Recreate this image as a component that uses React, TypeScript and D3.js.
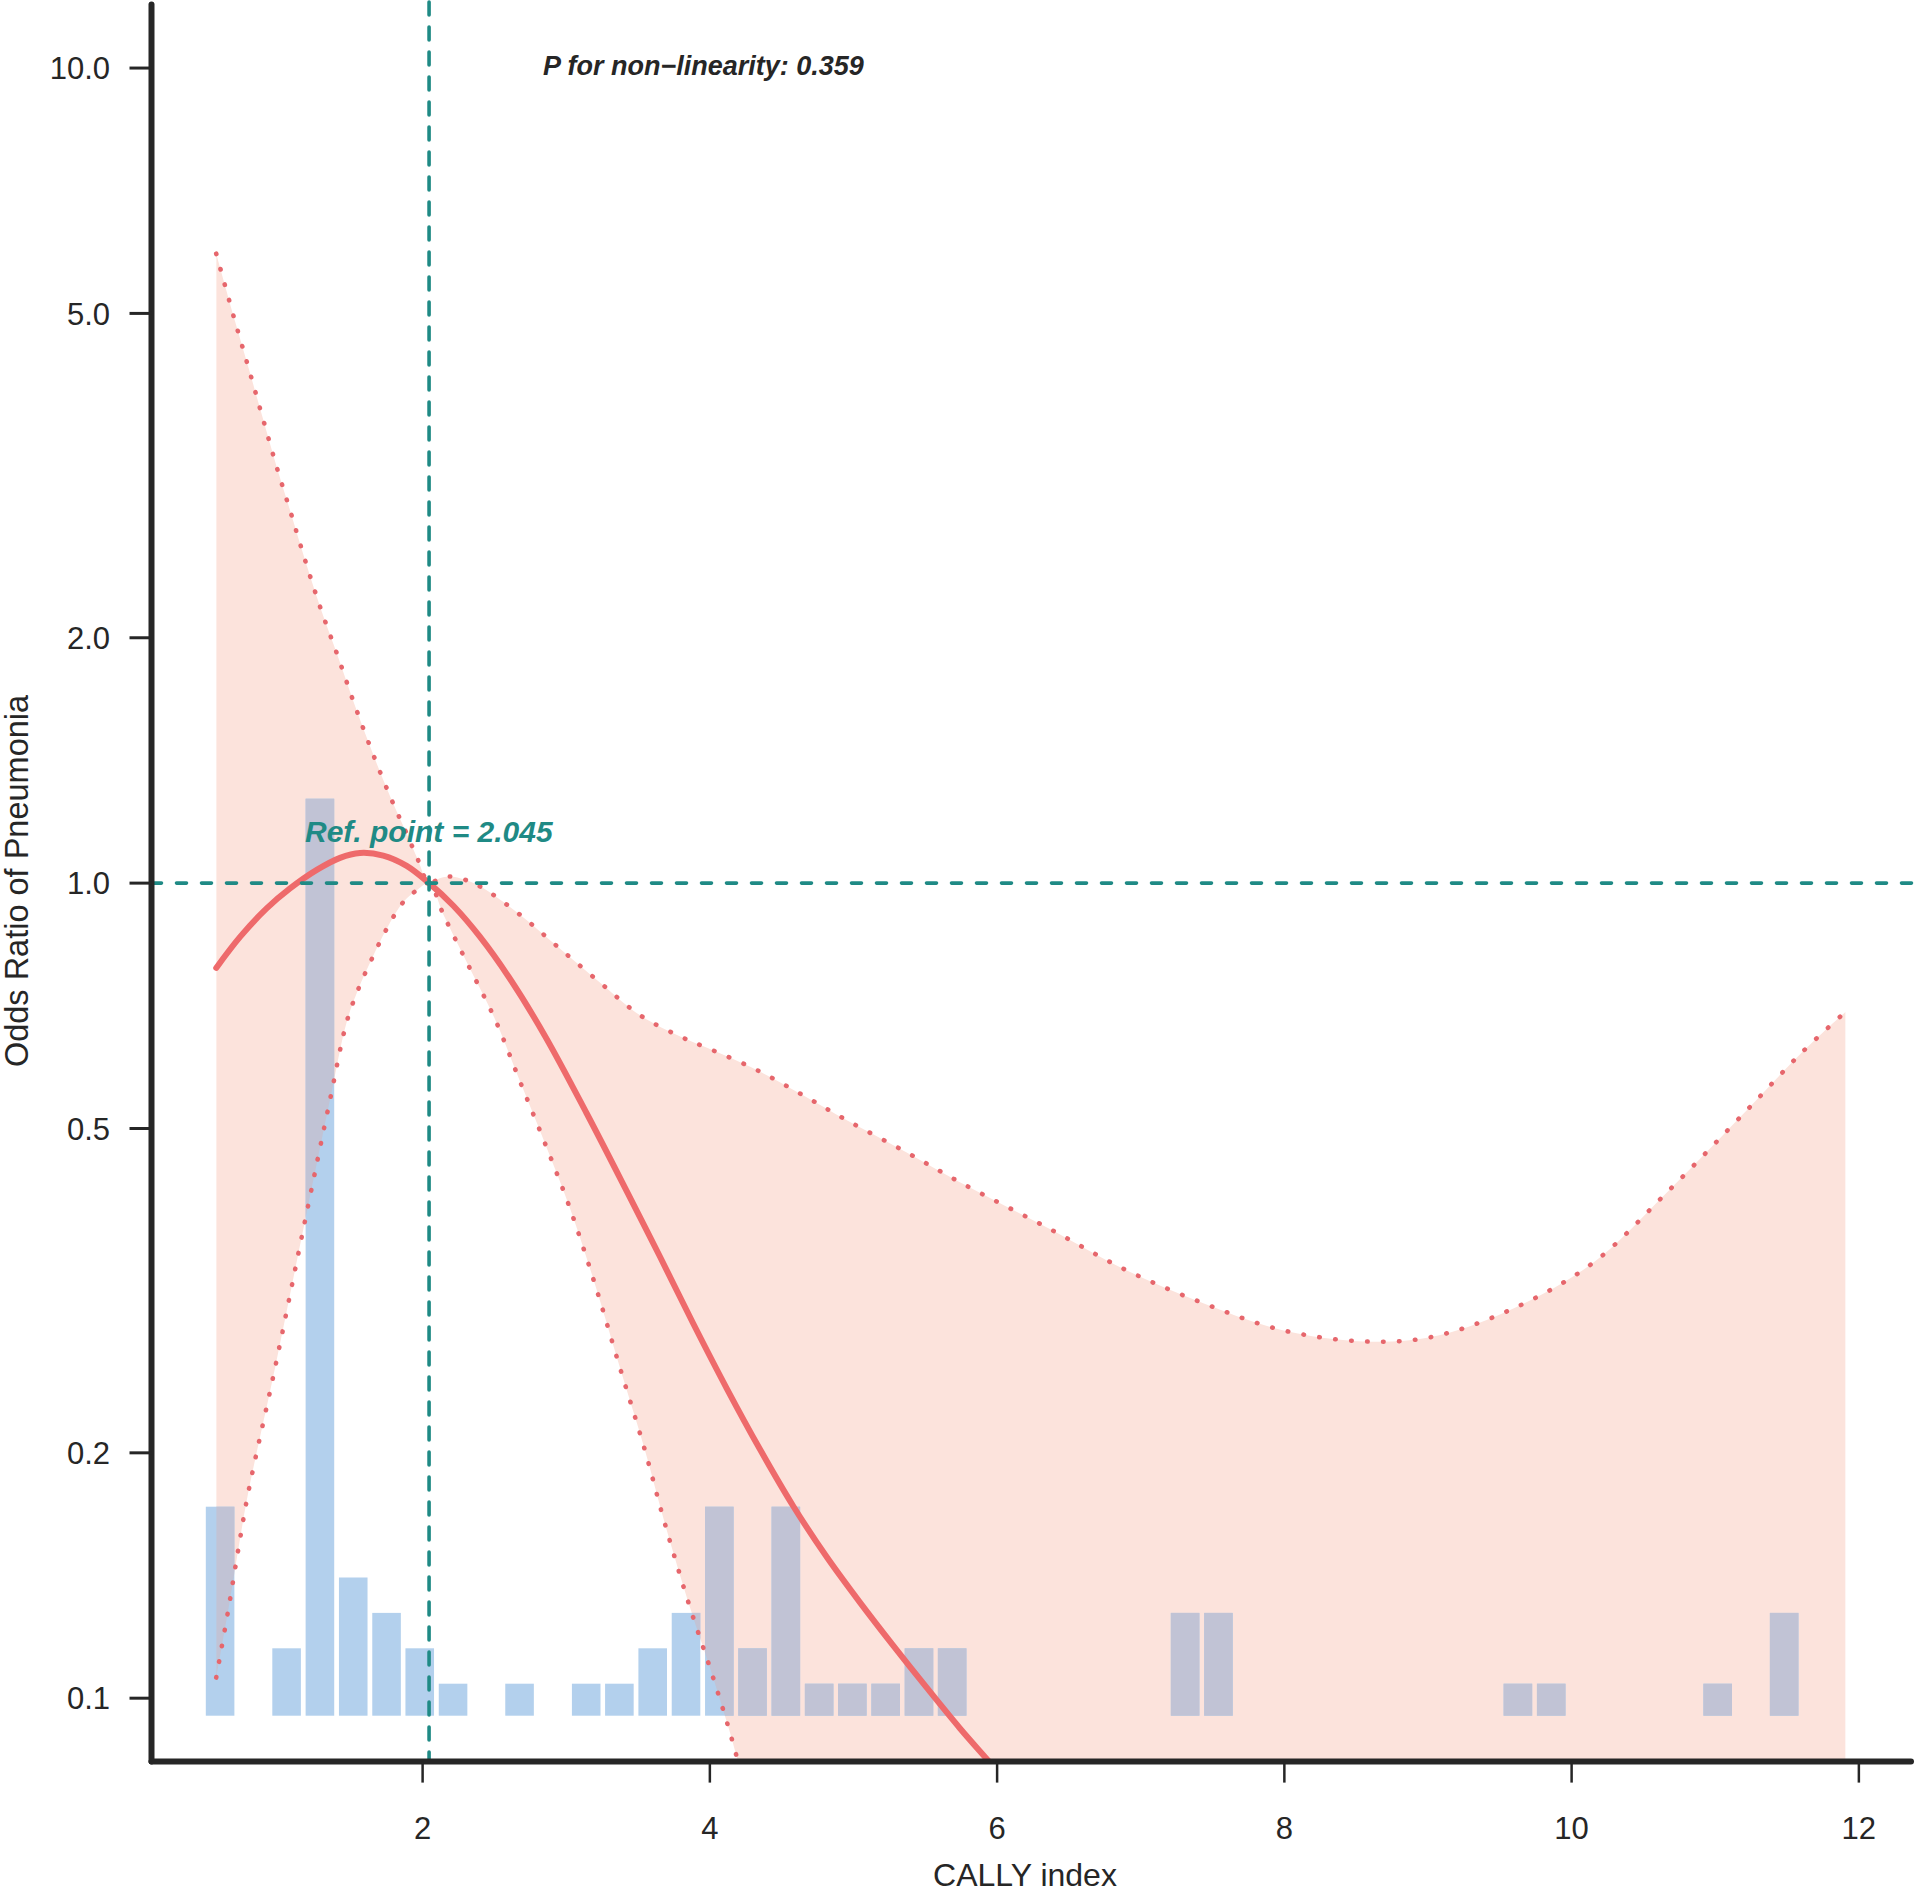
import { useEffect } from "react";
import * as d3 from "d3";

// axis ticks
const xTicks = [2, 4, 6, 8, 10, 12];
const yTicks = [0.1, 0.2, 0.5, 1.0, 2.0, 5.0, 10.0];
const refPoint = 2.045;
const pNonLinear = "0.359";

// fitted odds ratio (spline)
const fitX = [0.563, 0.729, 0.914, 1.077, 1.263, 1.425, 1.564, 1.726, 1.889, 2.045, 2.214, 2.4, 2.6, 2.853, 3.142, 3.43, 3.653, 3.885, 4.117, 4.349, 4.581, 4.814, 5.046, 5.277, 5.51, 5.742, 5.939, 6.2];
const fitOR = [0.787, 0.859, 0.931, 0.985, 1.038, 1.074, 1.089, 1.081, 1.05, 1.0, 0.938, 0.859, 0.767, 0.649, 0.522, 0.416, 0.348, 0.288, 0.24, 0.202, 0.172, 0.149, 0.131, 0.116, 0.103, 0.0918, 0.0838, 0.0743];

// upper 95% CI
const upperX = [0.563, 0.694, 0.791, 0.887, 0.984, 1.084, 1.188, 1.295, 1.409, 1.524, 1.648, 1.78, 1.889, 1.966, 2.045, 2.12, 2.189, 2.3, 2.42, 2.68, 2.939, 3.228, 3.517, 3.805, 4.008, 4.325, 4.643, 4.96, 5.364, 5.768, 6.36, 6.9, 7.44, 7.98, 8.547, 9.005, 9.545, 10.139, 10.679, 11.218, 11.596, 11.906];
const upperOR = [5.92, 4.89, 4.27, 3.72, 3.24, 2.84, 2.47, 2.16, 1.9, 1.66, 1.45, 1.27, 1.15, 1.07, 1.0, 1.014, 1.019, 1.009, 0.986, 0.914, 0.836, 0.757, 0.688, 0.647, 0.625, 0.59, 0.55, 0.511, 0.468, 0.427, 0.377, 0.335, 0.305, 0.283, 0.274, 0.277, 0.298, 0.341, 0.42, 0.526, 0.618, 0.695];

// lower 95% CI
const lowerX = [0.563, 0.649, 0.724, 0.784, 0.972, 1.181, 1.356, 1.472, 1.552, 1.646, 1.75, 1.866, 1.966, 2.045, 2.146, 2.304, 2.507, 2.68, 2.853, 3.026, 3.2, 3.372, 3.546, 3.69, 3.863, 4.008, 4.123, 4.181, 4.3, 4.5];
const lowerOR = [0.106, 0.129, 0.155, 0.178, 0.254, 0.385, 0.543, 0.676, 0.741, 0.807, 0.879, 0.948, 0.982, 1.0, 0.914, 0.802, 0.679, 0.57, 0.479, 0.399, 0.322, 0.255, 0.202, 0.163, 0.129, 0.108, 0.0929, 0.0855, 0.0708, 0.0525];

// histogram of CALLY index (bin mids and counts)
const histMid = [0.59, 1.053, 1.285, 1.517, 1.749, 1.98, 2.212, 2.675, 3.139, 3.37, 3.602, 3.834, 4.066, 4.297, 4.529, 4.761, 4.992, 5.224, 5.456, 5.687, 7.309, 7.541, 9.626, 9.858, 11.017, 11.48];
const histCount = [6, 2, 26, 4, 3, 2, 1, 1, 1, 1, 2, 3, 6, 2, 6, 1, 1, 1, 2, 2, 3, 3, 1, 1, 1, 3];

const W = 1915;
const H = 1892;
const FONT = "'Liberation Sans', Arial, Helvetica, sans-serif";
const RED = "#ee6a6b";
const DOT = "#e6666c";
const TEAL = "#1f8a85";
const PINK = "#fce3dc";
const BLUE = "#b3d0ed";
const GREY = "#c1c3d5";
const INK = "#262626";

export default function App() {
  useEffect(() => {
    document.body.style.margin = "0";
  }, []);

  const x = d3.scaleLinear().domain([0.1124, 12.363]).range([151.5, 1911]);
  const y = d3.scaleLog().domain([0.0836, 11.97]).range([1761.6, 4.4]);
  const hy = d3.scaleLinear().domain([0, 26]).range([1719.1, 798.7]);
  const barBase = 1715.7;
  const barHalf = 0.0995;

  const [xl, xr] = x.range();
  const [yb, yt] = y.range();

  const fit = fitX.map((v, i) => [v, fitOR[i]]);
  const upper = upperX.map((v, i) => [v, upperOR[i]]);
  const lower = lowerX.map((v, i) => [v, lowerOR[i]]);

  const curve = d3.curveCatmullRom.alpha(0.5);

  const line = d3
    .line<number[]>()
    .x((d) => x(d[0]))
    .y((d) => y(d[1]))
    .curve(curve);

  const belowUpper = d3
    .area<number[]>()
    .x((d) => x(d[0]))
    .y0(H + 100)
    .y1((d) => y(d[1]))
    .curve(curve)(upper);

  const aboveLower = d3
    .area<number[]>()
    .x((d) => x(d[0]))
    .y0((d) => y(d[1]))
    .y1(-100)
    .curve(curve)(lower);

  const lowerEnd = x(lowerX[lowerX.length - 1]);

  const bars = (fill: string) =>
    histMid.map((m, i) => (
      <rect
        key={i}
        x={x(m - barHalf)}
        width={x(m + barHalf) - x(m - barHalf)}
        y={hy(histCount[i])}
        height={barBase - hy(histCount[i])}
        fill={fill}
      />
    ));

  return (
    <svg width={W} height={H} style={{ display: "block" }} fontFamily={FONT}>
      <defs>
        <clipPath id="cpPlot">
          <rect x={xl} y={0} width={W - xl} height={yb} />
        </clipPath>
        <clipPath id="cpUpper">
          <path d={belowUpper || ""} />
        </clipPath>
        <clipPath id="cpLower">
          <path d={aboveLower || ""} />
          <rect x={lowerEnd - 0.5} y={-100} width={W} height={H + 200} />
        </clipPath>
      </defs>
      <rect width={W} height={H} fill="#fff" />

      {/* confidence band */}
      <g clipPath="url(#cpPlot)">
        <g clipPath="url(#cpUpper)">
          <g clipPath="url(#cpLower)">
            <rect x={0} y={0} width={W} height={H} fill={PINK} />
          </g>
        </g>
      </g>

      {/* histogram */}
      <g clipPath="url(#cpPlot)">{bars(BLUE)}</g>
      <g clipPath="url(#cpPlot)">
        <g clipPath="url(#cpUpper)">
          <g clipPath="url(#cpLower)">{bars(GREY)}</g>
        </g>
      </g>

      {/* CI bounds and fitted curve */}
      <g clipPath="url(#cpPlot)" fill="none">
        {[upper, lower].map((pts, i) => (
          <path
            key={i}
            d={line(pts) || ""}
            stroke={DOT}
            strokeWidth={4.6}
            strokeLinecap="round"
            strokeDasharray="0.5 15.5"
          />
        ))}
        <path d={line(fit) || ""} stroke={RED} strokeWidth={6} strokeLinecap="round" />
      </g>

      {/* reference lines */}
      <g clipPath="url(#cpPlot)" stroke={TEAL} strokeWidth={3.6} strokeLinecap="round">
        <line x1={xl} x2={W} y1={y(1)} y2={y(1)} strokeDasharray="10 15" />
        <line x1={x(refPoint)} x2={x(refPoint)} y1={2} y2={yb} strokeDasharray="13 12" />
      </g>

      {/* axes */}
      <g stroke={INK} strokeLinecap="round">
        <line x1={xl} x2={xl} y1={yt} y2={yb} strokeWidth={6} />
        <line x1={xl} x2={xr} y1={yb} y2={yb} strokeWidth={6} />
        {yTicks.map((t) => (
          <line key={t} x1={xl - 22} x2={xl} y1={y(t)} y2={y(t)} strokeWidth={3} strokeLinecap="butt" />
        ))}
        {xTicks.map((t) => (
          <line key={t} x1={x(t)} x2={x(t)} y1={yb} y2={yb + 21} strokeWidth={2.5} strokeLinecap="butt" />
        ))}
      </g>
      <g fill={INK} fontSize={31}>
        {yTicks.map((t) => (
          <text key={t} x={110} y={y(t)} dy="0.36em" textAnchor="end">
            {d3.format(".1f")(t)}
          </text>
        ))}
        {xTicks.map((t) => (
          <text key={t} x={x(t)} y={1839} textAnchor="middle">
            {t}
          </text>
        ))}
      </g>
      <text x={1025} y={1886} textAnchor="middle" fontSize={32} fill={INK}>
        CALLY index
      </text>
      <text
        transform={`translate(28,${881}) rotate(-90)`}
        textAnchor="middle"
        fontSize={32.5}
        fill={INK}
      >
        Odds Ratio of Pneumonia
      </text>

      {/* annotations */}
      <text x={543} y={75} fontSize={27} fontWeight="bold" fontStyle="italic" fill={INK}>
        {`P for non\u2212linearity: ${pNonLinear}`}
      </text>
      <text x={305} y={842} fontSize={30} fontWeight="bold" fontStyle="italic" fill={TEAL}>
        {`Ref. point = ${refPoint}`}
      </text>
    </svg>
  );
}
